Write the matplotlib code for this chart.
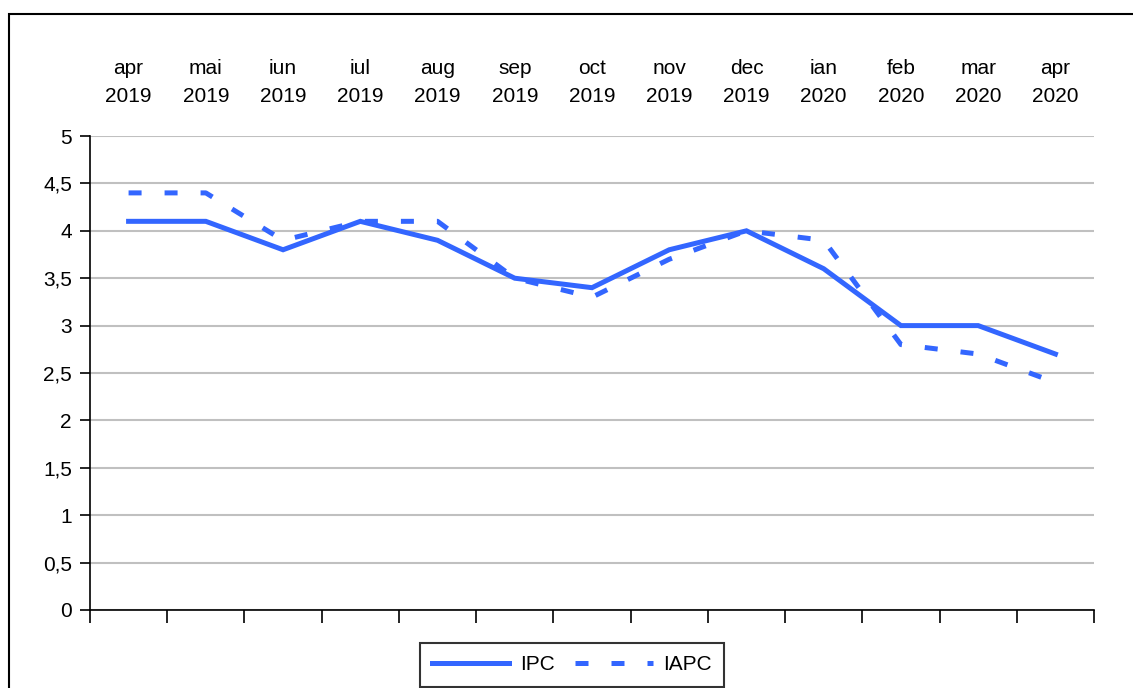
import matplotlib.pyplot as plt
from matplotlib.patches import Rectangle
from matplotlib.ticker import FuncFormatter

plt.rcParams['font.family'] = ['Liberation Sans', 'DejaVu Sans']

# Data
months = ['apr\n2019', 'mai\n2019', 'iun\n2019', 'iul\n2019', 'aug\n2019', 'sep\n2019',
          'oct\n2019', 'nov\n2019', 'dec\n2019', 'ian\n2020', 'feb\n2020', 'mar\n2020', 'apr\n2020']
ipc = [4.1, 4.1, 3.8, 4.1, 3.9, 3.5, 3.4, 3.8, 4.0, 3.6, 3.0, 3.0, 2.7]
iapc = [4.4, 4.4, 3.9, 4.1, 4.1, 3.5, 3.3, 3.7, 4.0, 3.9, 2.8, 2.7, 2.4]

blue = '#3366ff'
x = list(range(len(months)))

fig = plt.figure(figsize=(11.33, 6.88), dpi=100)
ax = fig.add_axes([0.0794, 0.1134, 0.8862, 0.6889])

ax.plot(x, ipc, color=blue, lw=3.6, solid_joinstyle='miter', label='IPC')
ax.plot(x, iapc, color=blue, lw=3.6, linestyle=(0, (2.6, 4.6)),
        dash_capstyle='butt', label='IAPC')

ax.set_xlim(-0.5, len(months) - 0.5)
ax.set_ylim(0, 5)
ax.set_yticks([i * 0.5 for i in range(11)])
ax.yaxis.set_major_formatter(FuncFormatter(lambda v, p: f'{v:g}'.replace('.', ',')))
ax.grid(axis='y', color='#c0c0c0', lw=1.5)
ax.set_axisbelow(True)

# month labels on top, tick marks between categories at the bottom
ax.set_xticks(x)
ax.set_xticklabels(months, fontsize=15, linespacing=1.6)
ax.tick_params(axis='x', which='major', top=False, bottom=False,
               labeltop=True, labelbottom=False, pad=18)
ax.set_xticks([i - 0.5 for i in range(len(months) + 1)], minor=True)
ax.tick_params(axis='x', which='minor', bottom=True, length=9, width=1.2, direction='out')
ax.tick_params(axis='y', labelsize=15, length=7, width=1.2, pad=6)

for s in ['top', 'right']:
    ax.spines[s].set_visible(False)
ax.spines['left'].set_linewidth(1.2)
ax.spines['bottom'].set_linewidth(1.2)

leg = ax.legend(ncol=2, loc='upper center', bbox_to_anchor=(572 / 1133, 45 / 688),
                bbox_transform=fig.transFigure, fontsize=15, handlelength=3.7,
                columnspacing=1.0, fancybox=False, edgecolor='black',
                borderpad=0.6, borderaxespad=0, handletextpad=0.5)
leg.get_frame().set_linewidth(1.5)

# outer chart border (runs off the right and bottom edges)
fig.patches.append(Rectangle((9 / 1133, -0.1), 1.2, 1.1 - 14 / 688, transform=fig.transFigure,
                             fill=False, edgecolor='black', lw=1.5))

fig.savefig('out.png', dpi=100)
